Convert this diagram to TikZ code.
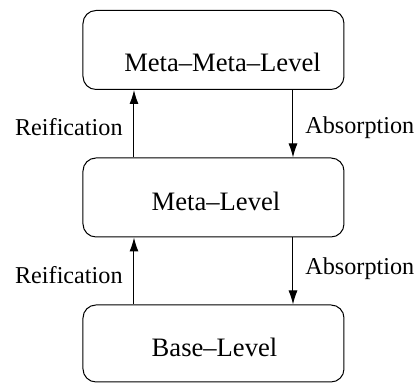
\documentclass[tikz,border=0pt]{standalone}
\usepackage{fontspec}
\setmainfont{Liberation Serif}
\usetikzlibrary{arrows.meta}
\begin{document}
\begin{tikzpicture}[x=1pt,y=1pt,
		level/.style={draw,rounded corners=6.5pt,minimum width=130.5pt,minimum height=39.5pt,line width=0.5pt},
		levtext/.style={font=\fontsize{13.3}{16}\selectfont,inner sep=0pt},
		lbl/.style={font=\fontsize{12.1}{14}\selectfont,inner sep=0pt},
		link/.style={line width=0.5pt,-{Latex[length=7pt,width=4.5pt]}}]
		\useasboundingbox (0,0) rectangle (210,-191.5);
		\node[level] (MM) at (106.75,-25) {};
		\node[level] (M) at (106.75,-98.75) {};
		\node[level,minimum height=38.5pt] (B) at (106.75,-171.75) {};
		\node[levtext] (MMt) at (111.25,-31) {Meta--Meta--Level};
		\node[levtext] (Mt) at (108,-100.5) {Meta--Level};
		\node[levtext] (Bt) at (107.25,-173.75) {Base--Level};
		\draw[link] ([xshift=-39.75pt]M.north) to ([xshift=-39.75pt]MM.south);
		\draw[link] ([xshift=39.75pt]MM.south) to ([xshift=39.75pt]M.north);
		\draw[link] ([xshift=-39.75pt]B.north) to ([xshift=-39.75pt]M.south);
		\draw[link] ([xshift=39.75pt]M.south) to ([xshift=39.75pt]B.north);
		\node[lbl,anchor=east] (R1) at (61.5,-63.5) {Reification};
		\node[lbl,anchor=west] (A1) at (152.5,-64) {Absorption};
		\node[lbl,anchor=east] (R2) at (61.5,-137.5) {Reification};
		\node[lbl,anchor=west] (A2) at (152.5,-134.5) {Absorption};
\end{tikzpicture}
\end{document}
